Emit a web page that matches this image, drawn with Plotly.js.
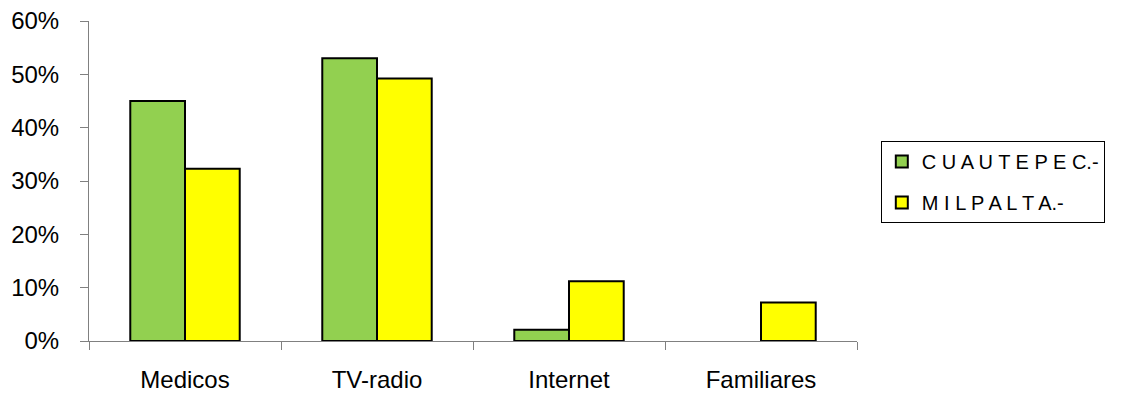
<!DOCTYPE html>
<html>
<head>
<meta charset="utf-8">
<script src="https://cdn.plot.ly/plotly-3.0.1.min.js"></script>
<style>html,body{margin:0;padding:0;background:#fff;}#chart{width:1146px;height:394px;}</style>
</head>
<body>
<div id="chart"></div>
<script>
const categories = ["Medicos", "TV-radio", "Internet", "Familiares"];
const seriesNames = ["C U A U T E P E C.-", "M I L P A L T A.-"];
const cuautepec = [0.45, 0.53, 0.021, null];
const milpalta = [0.323, 0.492, 0.112, 0.072];
const yTickVals = [0, 0.1, 0.2, 0.3, 0.4, 0.5, 0.6];

const font = {family: "Liberation Sans, Arial, sans-serif", color: "#000"};

const traces = [
  {type: "bar", name: seriesNames[0], x: categories, y: cuautepec, legendgroup: "g1",
   marker: {color: "#92D050", line: {color: "#000", width: 2}}},
  {type: "bar", name: seriesNames[1], x: categories, y: milpalta, legendgroup: "g2",
   marker: {color: "#FFFF00", line: {color: "#000", width: 2}}}
];

const layout = {
  width: 1146, height: 394,
  margin: {l: 89, r: 289, t: 21, b: 53, pad: 0},
  paper_bgcolor: "#fff", plot_bgcolor: "#fff",
  barmode: "group", bargap: 0.43, bargroupgap: 0,
  showlegend: true,
  font: Object.assign({size: 24}, font),
  xaxis: {type: "category", range: [-0.5, 3.5], tickson: "boundaries",
    ticks: "outside", ticklen: 8, tickcolor: "#808080", tickwidth: 1,
    showline: true, linecolor: "#808080", linewidth: 1,
    showgrid: false, zeroline: false, fixedrange: true, ticklabelstandoff: 17,
    tickfont: Object.assign({size: 24}, font)},
  yaxis: {range: [0, 0.6], tickvals: yTickVals, tickformat: ".0%",
    ticks: "outside", ticklen: 8, tickcolor: "#808080", tickwidth: 1,
    showline: true, linecolor: "#808080", linewidth: 1,
    showgrid: false, zeroline: false, ticklabelstandoff: 16,
    tickfont: Object.assign({size: 24}, font)},
  legend: {x: 1.031, xanchor: "left", y: 0.625, yanchor: "top",
    bordercolor: "#000", borderwidth: 1, bgcolor: "#fff",
    font: Object.assign({size: 20}, font), itemwidth: 30,
    tracegroupgap: 12}
};

Plotly.newPlot("chart", traces, layout, {displayModeBar: false, staticPlot: true});
</script>
</body>
</html>
